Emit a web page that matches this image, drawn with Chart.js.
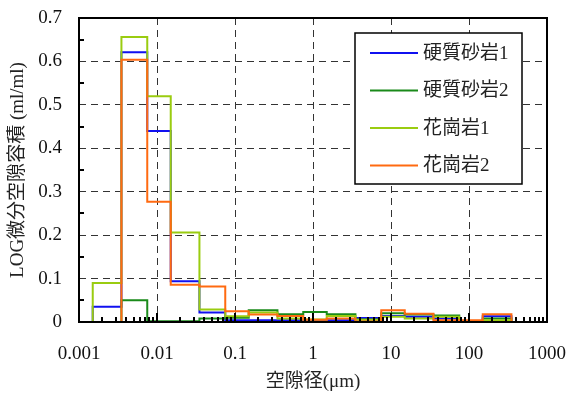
<!DOCTYPE html>
<html>
<head>
<meta charset="utf-8">
<script src="https://cdn.jsdelivr.net/npm/chart.js@4.4.1/dist/chart.umd.min.js"></script>
<style>
  html, body { margin: 0; background: #fff; }
  #wrap { width: 570px; height: 396px; }
</style>
</head>
<body>
<div id="wrap"><canvas id="wykres"></canvas></div>
<script>
// granice klas (um) - histogram schodkowy
var binEdges = [0.0015, 0.0035, 0.0075, 0.015, 0.035, 0.075, 0.15, 0.35, 0.75, 1.5, 3.5, 7.5, 15, 35, 75, 150, 350];
var seriesNames = ['硬質砂岩1', '硬質砂岩2', '花崗岩1', '花崗岩2'];
var hardSand1 = [0.035, 0.621, 0.44, 0.094, 0.022, 0.004, 0.004, 0.004, 0.004, 0.004, 0.009, 0.014, 0.012, 0.008, 0, 0.013];
var hardSand2 = [0, 0.05, 0.002, 0.002, 0.008, 0.01, 0.027, 0.018, 0.023, 0.018, 0.006, 0.02, 0.017, 0.015, 0, 0.008];
var granite1 = [0.09, 0.656, 0.52, 0.206, 0.029, 0.013, 0.022, 0.008, 0.006, 0.014, 0.005, 0.012, 0.008, 0.012, 0, 0.004];
var granite2 = [0, 0.604, 0.277, 0.086, 0.082, 0.025, 0.017, 0.014, 0.005, 0.008, 0.001, 0.027, 0.019, 0.004, 0.004, 0.018];
var xTicks = [0.001, 0.01, 0.1, 1, 10, 100, 1000];
var yTicks = [0, 0.1, 0.2, 0.3, 0.4, 0.5, 0.6, 0.7];

var serif = "'Liberation Serif', 'Noto Sans CJK JP', serif";

function schodki(vals) {
  var pts = [{ x: binEdges[0], y: 0 }];
  for (var i = 0; i < vals.length; i++) {
    pts.push({ x: binEdges[i], y: vals[i] });
  }
  pts.push({ x: binEdges[binEdges.length - 1], y: 0 });
  return pts;
}

function seria(label, vals, color, order) {
  return {
    label: label,
    data: schodki(vals),
    stepped: 'before',
    borderColor: color,
    backgroundColor: color,
    borderWidth: 2,
    pointRadius: 0,
    fill: false,
    order: order
  };
}

var ramka = {
  id: 'ramka',
  afterDraw: function (chart) {
    var c = chart.ctx, a = chart.chartArea;
    var sx = chart.scales.x, sy = chart.scales.y;
    c.save();
    c.strokeStyle = '#000';
    c.lineWidth = 2;
    c.beginPath();
    // male znaczniki na osi X
    for (var k = -3; k < 3; k++) {
      for (var m = 1; m < 10; m++) {
        var px = Math.round(sx.getPixelForValue(m * Math.pow(10, k)));
        var len = m == 1 ? 9 : 5;
        c.moveTo(px, a.bottom);
        c.lineTo(px, a.bottom - len);
      }
    }
    // znaczniki na osi Y
    for (var j = 0; j < yTicks.length - 1; j++) {
      var py = Math.round(sy.getPixelForValue((yTicks[j] + yTicks[j + 1]) / 2));
      c.moveTo(a.left, py);
      c.lineTo(a.left + 5, py);
    }
    c.stroke();
    c.lineWidth = 2;
    c.strokeRect(a.left, a.top, a.right - a.left, a.bottom - a.top);

    // legenda
    var bx = a.right - 192, by = a.top + 15, bw = 167, bh = 151;
    c.fillStyle = '#fff';
    c.fillRect(bx, by, bw, bh);
    c.lineWidth = 1.5;
    c.strokeRect(bx, by, bw, bh);
    c.font = '19px ' + serif;
    c.textBaseline = 'middle';
    for (var i = 0; i < seriesNames.length; i++) {
      var ds = chart.data.datasets[i];
      var ly = by + 20 + i * 37.5;
      c.strokeStyle = ds.borderColor;
      c.lineWidth = 2;
      c.beginPath();
      c.moveTo(bx + 15, ly);
      c.lineTo(bx + 63, ly);
      c.stroke();
      c.fillStyle = '#222';
      c.fillText(ds.label, bx + 68, ly + 1);
    }
    c.restore();
  }
};

new Chart(document.getElementById('wykres'), {
  type: 'line',
  data: {
    datasets: [
      seria(seriesNames[0], hardSand1, '#1010f0', 4),
      seria(seriesNames[1], hardSand2, '#1a8a1a', 3),
      seria(seriesNames[2], granite1, '#9acc10', 2),
      seria(seriesNames[3], granite2, '#ff6a10', 1),
      {
        label: '',
        data: [{ x: binEdges[0], y: 0 }, { x: binEdges[binEdges.length - 1], y: 0 }],
        borderColor: '#8a008a',
        borderWidth: 2,
        pointRadius: 0,
        order: 0
      }
    ]
  },
  options: {
    responsive: true,
    maintainAspectRatio: false,
    animation: false,
    layout: { padding: { top: 18, right: 23, left: 0, bottom: 0 } },
    plugins: { legend: { display: false }, tooltip: { enabled: false } },
    scales: {
      x: {
        type: 'logarithmic',
        min: 0.001,
        max: 1000,
        afterBuildTicks: function (s) {
          s.ticks = xTicks.map(function (v) { return { value: v, major: true }; });
        },
        afterFit: function (s) {
          s.height = 74;
          s.paddingLeft = 0;
          s.paddingRight = 0;
        },
        ticks: {
          autoSkip: false,
          maxRotation: 0,
          padding: 21,
          color: '#111',
          font: { family: serif, size: 19 },
          callback: function (v) { return String(v); }
        },
        grid: { drawTicks: false, color: '#333', lineWidth: 1 },
        border: { display: false, dash: [7, 5] },
        title: {
          display: true,
          text: '空隙径(μm)',
          color: '#222',
          font: { family: serif, size: 19 },
          padding: { top: 0, bottom: 3 }
        }
      },
      y: {
        min: 0,
        max: 0.7,
        afterBuildTicks: function (s) {
          s.ticks = yTicks.map(function (v) { return { value: v }; });
        },
        afterFit: function (s) {
          s.width = 79;
          s.paddingTop = 0;
          s.paddingBottom = 0;
        },
        ticks: {
          padding: 17,
          color: '#111',
          font: { family: serif, size: 19 },
          callback: function (v) { return String(+v.toFixed(1)); }
        },
        grid: { drawTicks: false, color: '#333', lineWidth: 1 },
        border: { display: false, dash: [7, 5] },
        title: {
          display: true,
          text: 'LOG微分空隙容積 (ml/ml)',
          color: '#222',
          font: { family: serif, size: 19 },
          padding: { top: 7, bottom: 0 }
        }
      }
    }
  },
  plugins: [ramka]
});
</script>
</body>
</html>
